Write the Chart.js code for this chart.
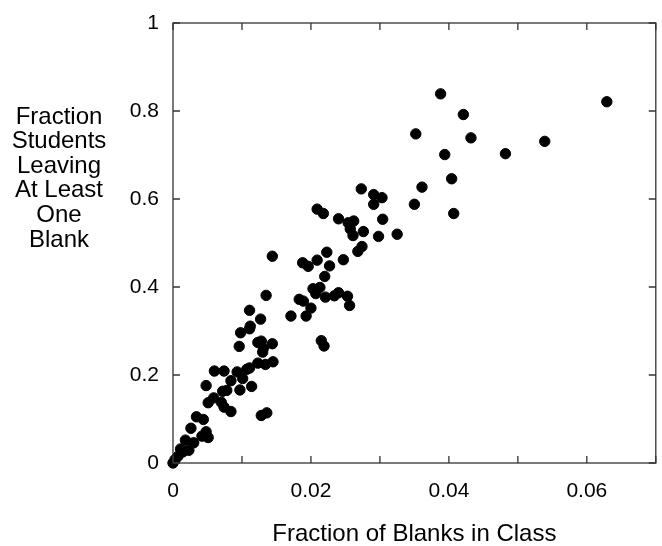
<!DOCTYPE html>
<html>
<head>
<meta charset="utf-8">
<script src="https://cdn.jsdelivr.net/npm/chart.js@4.4.0/dist/chart.umd.min.js"></script>
<style>
  body { margin: 0; background: #fff; }
  #wrap { width: 662px; height: 546px; }
</style>
</head>
<body>
<div id="wrap"><canvas id="mycanvas" width="662" height="546"></canvas></div>
<script>
// fraction of blanks in class (x) and fraction of students leaving at least one blank (y)
var blanks = [
  0.0388, 0.0629, 0.0421, 0.0352, 0.0432, 0.0539, 0.0394, 0.0482, 0.0404, 0.0361,
  0.0273, 0.0291, 0.0303, 0.0291, 0.0350, 0.0407, 0.0209, 0.0218, 0.0240, 0.0254,
  0.0262, 0.0257, 0.0304, 0.0276, 0.0261, 0.0298, 0.0325, 0.0274, 0.0268, 0.0144,
  0.0223, 0.0209, 0.0188, 0.0196, 0.0227, 0.0247, 0.0220, 0.0203, 0.0213, 0.0207,
  0.0221, 0.0234, 0.0240, 0.0253, 0.0256, 0.0183, 0.0189, 0.0200, 0.0171, 0.0193,
  0.0135, 0.0111, 0.0127, 0.0112, 0.0111, 0.0098, 0.0096, 0.0123, 0.0128, 0.0144,
  0.0131, 0.0130, 0.0215, 0.0219, 0.0145, 0.0134, 0.0123, 0.0111, 0.0107, 0.0093,
  0.0074, 0.0060, 0.0101, 0.0084, 0.0114, 0.0048, 0.0097, 0.0078, 0.0072, 0.0059,
  0.0051, 0.0070, 0.0074, 0.0084, 0.0128, 0.0136, 0.0034, 0.0044, 0.0026, 0.0048,
  0.0042, 0.0051, 0.0018, 0.0030, 0.0023, 0.0011, 0.0014, 0.0003, 0.0000, 0.0007
];
var leaving = [
  0.839, 0.821, 0.792, 0.748, 0.739, 0.731, 0.701, 0.703, 0.646, 0.627,
  0.623, 0.610, 0.603, 0.588, 0.588, 0.567, 0.577, 0.567, 0.555, 0.546,
  0.550, 0.532, 0.554, 0.526, 0.517, 0.515, 0.520, 0.492, 0.481, 0.470,
  0.479, 0.461, 0.455, 0.447, 0.448, 0.462, 0.424, 0.396, 0.399, 0.385,
  0.377, 0.380, 0.387, 0.379, 0.358, 0.372, 0.368, 0.352, 0.334, 0.334,
  0.381, 0.347, 0.327, 0.311, 0.305, 0.296, 0.265, 0.274, 0.277, 0.271,
  0.261, 0.252, 0.278, 0.266, 0.230, 0.224, 0.227, 0.216, 0.213, 0.207,
  0.209, 0.209, 0.192, 0.187, 0.174, 0.176, 0.166, 0.165, 0.163, 0.148,
  0.137, 0.138, 0.127, 0.117, 0.108, 0.114, 0.105, 0.099, 0.079, 0.071,
  0.061, 0.058, 0.052, 0.046, 0.029, 0.032, 0.025, 0.008, 0.000, 0.015
];
var yTitleLines = ["Fraction", "Students", "Leaving", "At Least", "One", "Blank"];
var xTitle = "Fraction of Blanks in Class";

var points = [];
for (var i in blanks) {
  points.push({x: blanks[i], y: leaving[i]});
}

Chart.defaults.font.family = "'Liberation Sans', Arial, Helvetica, sans-serif";
Chart.defaults.color = "#000";

// box round the plot with inward tick marks on all four sides
var framePlugin = {
  id: 'frame',
  afterDraw: function(chart) {
    var c = chart.ctx, a = chart.chartArea;
    var xs = chart.scales.x, ys = chart.scales.y;
    c.save();
    c.strokeStyle = "#333";
    c.lineWidth = 1.3;
    c.strokeRect(a.left, a.top, a.right - a.left, a.bottom - a.top);
    c.beginPath();
    xs.ticks.forEach(function(t) {
      var px = xs.getPixelForValue(t.value);
      c.moveTo(px, a.bottom); c.lineTo(px, a.bottom - 7);
      c.moveTo(px, a.top); c.lineTo(px, a.top + 7);
    });
    ys.ticks.forEach(function(t) {
      var py = ys.getPixelForValue(t.value);
      c.moveTo(a.left, py); c.lineTo(a.left + 7, py);
      c.moveTo(a.right, py); c.lineTo(a.right - 7, py);
    });
    c.stroke();
    // y title, horizontal lines
    c.fillStyle = "#000";
    c.font = "24px 'Liberation Sans', Arial, sans-serif";
    c.textAlign = "center";
    c.textBaseline = "middle";
    for (var k = 0; k < yTitleLines.length; k++) {
      c.fillText(yTitleLines[k], 59, 117 + k * 24.6);
    }
    c.restore();
  }
};

var ctx = document.getElementById("mycanvas");
var scatter = new Chart(ctx, {
  type: 'scatter',
  data: {
    datasets: [{
      data: points,
      backgroundColor: "#000",
      borderColor: "#000",
      pointRadius: 5.2,
      pointHoverRadius: 5.2,
      clip: false
    }]
  },
  options: {
    responsive: false,
    animation: false,
    layout: { padding: { top: 23, right: 4, left: 0, bottom: 0 } },
    plugins: { legend: { display: false }, tooltip: { enabled: false } },
    scales: {
      x: {
        type: 'linear',
        min: 0,
        max: 0.07,
        grid: { display: false, drawTicks: false },
        border: { display: false },
        ticks: {
          stepSize: 0.01,
          padding: 16,
          font: { size: 21 },
          maxRotation: 0,
          autoSkip: false,
          callback: function(v) {
            var n = Math.round(v * 100);
            return n % 2 === 0 ? String(n / 100) : '';
          }
        },
        title: {
          display: true,
          text: xTitle,
          font: { size: 24, lineHeight: 1 },
          padding: 0
        },
        afterFit: function(scale) {
          scale.height = 83;
          scale.paddingLeft = 0;
          scale.paddingRight = 0;
        }
      },
      y: {
        min: 0,
        max: 1,
        grid: { display: false, drawTicks: false },
        border: { display: false },
        ticks: {
          stepSize: 0.2,
          padding: 14,
          font: { size: 21 },
          callback: function(v) {
            return String(Math.round(v * 10) / 10);
          }
        },
        afterFit: function(scale) {
          scale.width = 173;
          scale.paddingTop = 0;
          scale.paddingBottom = 0;
        }
      }
    }
  },
  plugins: [framePlugin]
});
</script>
</body>
</html>
